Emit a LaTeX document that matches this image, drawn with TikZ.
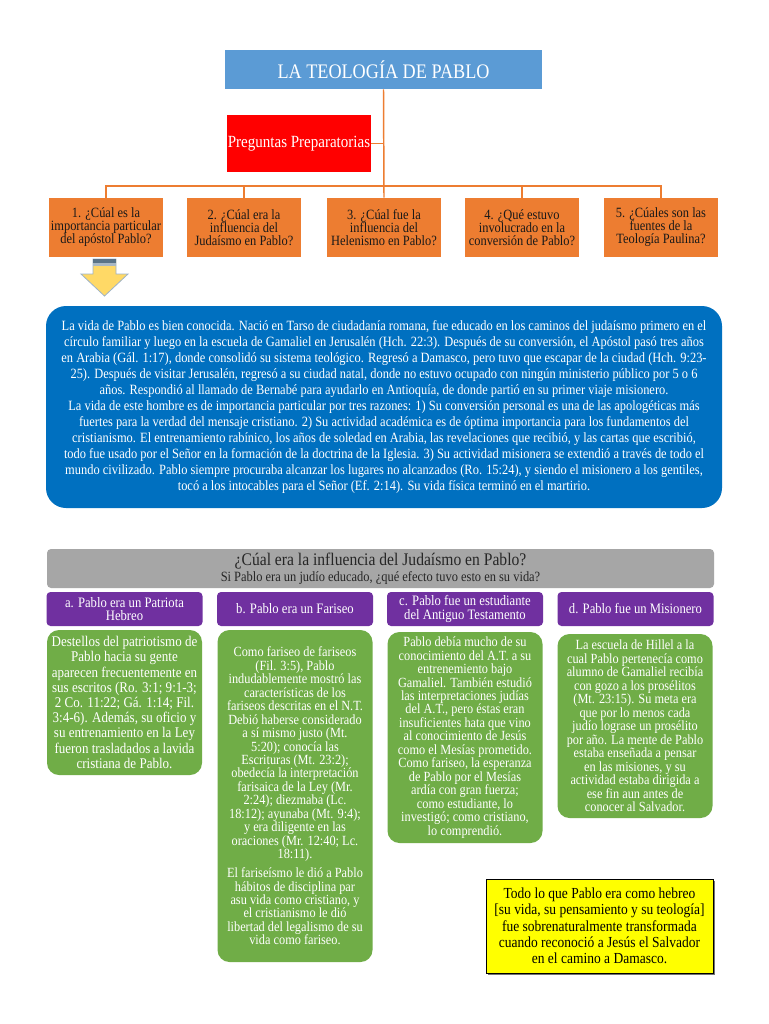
\documentclass[tikz,border=0pt]{standalone}
\usepackage{fontspec}
\setmainfont{Liberation Serif}[FakeStretch=0.88]
\usetikzlibrary{shadows}
\definecolor{tblue}{HTML}{5B9BD5}
\definecolor{tred}{HTML}{FF0000}
\definecolor{torange}{HTML}{ED7D31}
\definecolor{bigblue}{HTML}{0070C0}
\definecolor{tgray}{HTML}{A6A6A6}
\definecolor{tpurple}{HTML}{7030A0}
\definecolor{tgreen}{HTML}{70AD47}
\definecolor{tyellow}{HTML}{FFFF00}
\definecolor{arrfill}{HTML}{FFD966}
\definecolor{arrline}{HTML}{9DB3C8}
\definecolor{arrdark}{HTML}{5A7387}
\definecolor{arrmid}{HTML}{A9B8C4}
\begin{document}
\begin{tikzpicture}[x=0.75pt,y=-0.75pt,
  base/.style={inner sep=0pt, align=center},
  ttlbox/.style={base, fill=tblue, text=white, minimum width=237.75pt, minimum height=29.25pt, font=\fontsize{15.5}{17}\selectfont},
  redbox/.style={base, fill=tred, text=white, minimum width=108pt, minimum height=42.75pt, font=\fontsize{12.8}{14}\selectfont},
  qbox/.style={base, fill=torange, text=black!90, minimum width=85.5pt, minimum height=44.25pt, font=\fontsize{10.6}{9.75}\selectfont},
  bluebox/.style={base, fill=bigblue, text=white, rounded corners=15pt, minimum width=507pt, minimum height=151.5pt, font=\fontsize{10.6}{12}\selectfont},
  graybox/.style={base, fill=tgray, text=black!85, rounded corners=3pt, minimum width=500.25pt, minimum height=29.25pt},
  purbox/.style={base, fill=tpurple, text=white, rounded corners=3pt, minimum width=117pt, minimum height=25.5pt, font=\fontsize{10.8}{9.9}\selectfont},
  grnbox/.style={base, fill=tgreen, text=white, rounded corners=9pt, minimum width=116.25pt, font=\fontsize{10.5}{10.1}\selectfont},
  yelbox/.style={base, fill=tyellow, draw=black, line width=0.6pt, text=black, minimum width=170.25pt, minimum height=70.5pt, font=\fontsize{11.5}{12.2}\selectfont, drop shadow={shadow xshift=1.5pt, shadow yshift=-1.5pt, fill=black!55, opacity=1}},
  conn/.style={draw=torange, line width=1.1pt}
]
\useasboundingbox (0,0) rectangle (768,1024);
\fill[white] (0,0) rectangle (768,1024);

% top tree
\node[ttlbox] (title) at (383.5,69.5) {LA TEOLOGÍA DE PABLO};
\node[redbox] (prep) at (299,143.5) {Preguntas Preparatorias};
\node[qbox] (q1) at (106,227.5) {1. ¿Cúal es la\\importancia particular\\del apóstol Pablo?};
\node[qbox] (q2) at (244,227.5) {2. ¿Cúal era la\\influencia del\\Judaísmo en Pablo?};
\node[qbox] (q3) at (384,227.5) {3. ¿Cúal fue la\\influencia del\\Helenismo en Pablo?};
\node[qbox] (q4) at (522,227.5) {4. ¿Qué estuvo\\involucrado en la\\conversión de Pablo?};
\node[qbox] (q5) at (661,227.5) {5. ¿Cúales son las\\fuentes de la\\Teología Paulina?};
\coordinate (bus) at (384,186);
\draw[conn] (title.south) -- (q3.north);
\draw[conn] (prep.east) -- (prep.east -| title.south);
\draw[conn] (q1.north) |- (bus) -| (q5.north);
\draw[conn] (q2.north) |- (bus);
\draw[conn] (q4.north) |- (bus);

% yellow arrow
\filldraw[fill=arrfill, draw=arrline, line width=0.6pt]
  (93,259) -- (116,259) -- (116,274) -- (128,274) -- (104.5,296) -- (81,274) -- (93,274) -- cycle;
\fill[arrdark] (93.4,259.4) rectangle (115.6,262.5);
\fill[arrmid] (93.4,262.5) rectangle (115.6,266);

% blue text box
\node[bluebox] (life) at (384,407) {La vida de Pablo es bien conocida. Nació en Tarso de ciudadanía romana, fue educado en los caminos del judaísmo primero en el\\
círculo familiar y luego en la escuela de Gamaliel en Jerusalén (Hch. 22:3). Después de su conversión, el Apóstol pasó tres años\\
en Arabia (Gál. 1:17), donde consolidó su sistema teológico. Regresó a Damasco, pero tuvo que escapar de la ciudad (Hch. 9:23-\\
25). Después de visitar Jerusalén, regresó a su ciudad natal, donde no estuvo ocupado con ningún ministerio público por 5 o 6\\
años. Respondió al llamado de Bernabé para ayudarlo en Antioquía, de donde partió en su primer viaje misionero.\\
La vida de este hombre es de importancia particular por tres razones: 1) Su conversión personal es una de las apologéticas más\\
fuertes para la verdad del mensaje cristiano. 2) Su actividad académica es de óptima importancia para los fundamentos del\\
cristianismo. El entrenamiento rabínico, los años de soledad en Arabia, las revelaciones que recibió, y las cartas que escribió,\\
todo fue usado por el Señor en la formación de la doctrina de la Iglesia. 3) Su actividad misionera se extendió a través de todo el\\
mundo civilizado. Pablo siempre procuraba alcanzar los lugares no alcanzados (Ro. 15:24), y siendo el misionero a los gentiles,\\
tocó a los intocables para el Señor (Ef. 2:14). Su vida física terminó en el martirio.};

% second section
\node[graybox] (jud) at (380.5,568.5) {{\fontsize{13.3}{14}\selectfont ¿Cúal era la influencia del Judaísmo en Pablo?}\\[0pt]
{\fontsize{10.6}{11}\selectfont Si Pablo era un judío educado, ¿qué efecto tuvo esto en su vida?}};

\node[purbox] (pa) at (124.5,609) {a. Pablo era un Patriota\\Hebreo};
\node[purbox] (pb) at (295,609) {b. Pablo era un Fariseo};
\node[purbox] (pc) at (465,609) {c. Pablo fue un estudiante\\del Antiguo Testamento};
\node[purbox] (pd) at (635.5,609) {d. Pablo fue un Misionero};

\node[grnbox, minimum height=108.75pt, font=\fontsize{11.1}{11.4}\selectfont] (ga) at (124.5,702.5) {Destellos del patriotismo de\\Pablo hacia su gente\\aparecen frecuentemente en\\sus escritos (Ro. 3:1; 9:1-3;\\2 Co. 11:22; Gá. 1:14; Fil.\\3:4-6). Además, su oficio y\\su entrenamiento en la Ley\\fueron trasladados a lavida\\cristiana de Pablo.};

\node[grnbox, minimum height=249pt] (gb) at (295,796) {Como fariseo de fariseos\\(Fil. 3:5), Pablo\\indudablemente mostró las\\características de los\\fariseos descritas en el N.T.\\Debió haberse considerado\\a sí mismo justo (Mt.\\5:20); conocía las\\Escrituras (Mt. 23:2);\\obedecía la interpretación\\farisaica de la Ley (Mr.\\2:24); diezmaba (Lc.\\18:12); ayunaba (Mt. 9:4);\\y era diligente en las\\oraciones (Mr. 12:40; Lc.\\18:11).\\[4pt]
El fariseísmo le dió a Pablo\\hábitos de disciplina par\\asu vida como cristiano, y\\el cristianismo le dió\\libertad del legalismo de su\\vida como fariseo.};

\node[grnbox, minimum height=158.25pt] (gc) at (465,737.5) {Pablo debía mucho de su\\conocimiento del A.T. a su\\entrenemiento bajo\\Gamaliel. También estudió\\las interpretaciones judías\\del A.T., pero éstas eran\\insuficientes hata que vino\\al conocimiento de Jesús\\como el Mesías prometido.\\Como fariseo, la esperanza\\de Pablo por el Mesías\\ardía con gran fuerza;\\como estudiante, lo\\investigó; como cristiano,\\lo comprendió.};

\node[grnbox, minimum height=138pt] (gd) at (635,726) {La escuela de Hillel a la\\cual Pablo pertenecía como\\alumno de Gamaliel recibía\\con gozo a los prosélitos\\(Mt. 23:15). Su meta era\\que por lo menos cada\\judío lograse un prosélito\\por año. La mente de Pablo\\estaba enseñada a pensar\\en las misiones, y su\\actividad estaba dirigida a\\ese fin aun antes de\\conocer al Salvador.};

\node[yelbox] (todo) at (599.5,926) {Todo lo que Pablo era como hebreo\\{[}su vida, su pensamiento y su teología{]}\\fue sobrenaturalmente transformada\\cuando reconoció a Jesús el Salvador\\en el camino a Damasco.};
\end{tikzpicture}
\end{document}
